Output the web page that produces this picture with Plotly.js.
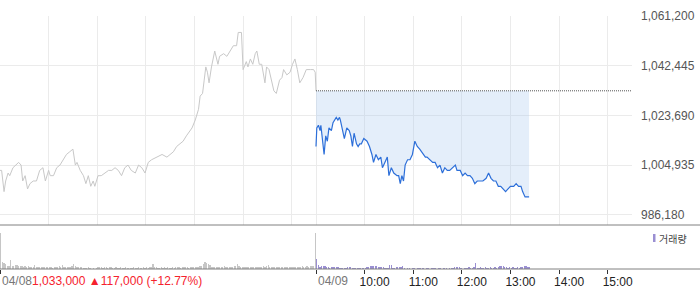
<!DOCTYPE html>
<html>
<head>
<meta charset="utf-8">
<script src="https://cdn.plot.ly/plotly-3.0.1.min.js"></script>
<style>
html,body{margin:0;padding:0;background:#fff;}
#chart{width:700px;height:289px;}
</style>
</head>
<body>
<div id="chart"></div>
<script>
// ---- data (minutes from 09:00 on 04/08; 04/09 session starts at minute 390) ----
const day1Min = [
  0,2,5,7,10,12,16,19,23,26,
  28,31,34,37,41,45,49,53,56,60,
  62,66,70,74,78,82,86,90,93,95,
  99,103,106,109,112,115,117,121,125,130,
  134,138,142,146,150,154,158,162,167,171,
  175,179,183,187,193,200,206,210,214,218,
  222,226,230,234,237,241,245,247,250,252,
  254,256,258,261,265,269,271,276,280,284,
  288,292,294,298,300,304,306,309,312,315,
  317,320,323,327,329,332,335,338,341,345,
  348,350,354,358,361,364,367,370,374,378,
  383,387,389,390
];
const day1Price = [
  1003000,1003000,995000,999000,1002000,1001000,1004000,1005000,1006000,1005000,
  999000,1001000,996000,998000,999000,999000,1003000,1004000,999000,1003000,
  1001000,1001000,1004000,1005000,1007000,1009000,1010000,1011000,1005000,1006000,
  1003000,1001000,998000,1001000,997000,999000,997000,1001000,1001000,1002000,
  1003000,1003000,1004000,1003000,1001000,1004000,1005000,1003000,1002000,1005000,
  1004000,1002000,1006000,1007000,1008000,1009000,1008000,1009000,1010000,1012000,
  1013000,1014000,1016000,1018000,1019000,1022000,1026000,1031000,1032000,1037000,
  1042000,1040000,1036000,1042000,1048000,1043000,1046000,1047000,1046000,1048000,
  1050000,1050000,1055000,1055000,1041000,1044000,1042000,1045000,1043000,1047000,
  1048000,1043000,1043000,1036000,1042000,1041000,1037000,1033000,1032000,1037000,
  1038000,1041000,1039000,1040000,1043000,1045000,1041000,1036000,1038000,1041000,
  1041000,1041000,1040000,1033000
];
const day2Min = [
  390,391,393,395,396,398,400,402,404,406,
  409,411,415,417,419,420,423,425,428,431,
  433,435,437,440,442,444,446,449,453,456,
  459,461,464,467,470,472,475,478,480,483,
  486,490,492,494,496,498,500,503,506,509,
  512,515,518,522,525,527,531,534,537,540,
  543,546,549,552,555,559,562,564,568,571,
  574,577,580,583,586,589,592,596,600,603,
  606,609,612,615,618,621,624,627,630,634,
  637,640,643,645,648,653
];
const day2Price = [
  1012000,1019000,1020000,1018000,1020000,1013000,1009000,1016000,1014000,1019000,
  1018000,1021000,1023000,1022000,1023000,1022000,1017000,1015000,1019000,1018000,
  1016000,1012000,1017000,1013000,1012000,1013000,1013000,1015000,1014000,1012000,
  1009000,1006000,1009000,1007000,1008000,1004000,1006000,1008000,1001000,1004000,
  1002000,1001000,1001000,998000,1001000,999000,1005000,1007000,1007000,1009000,
  1014000,1012000,1011000,1009000,1008000,1008000,1007000,1006000,1006000,1004000,
  1005000,1002000,1004000,1003000,1003000,1004000,1005000,1003000,1003000,1001000,
  1002000,1001000,1001000,1000000,998000,999000,999000,999000,1000000,1002000,
  1000000,999000,999000,997000,997000,996000,995000,996000,997000,997000,
  998000,997000,997000,995000,993000,993000
];
const prevClose = 1033000;   // 04/08 close
const change = 117000;
const changePct = 12.77;

// volume per 2-minute interval
const day1Vol = [
  3600,700,550,500,300,300,900,300,300,400,
  350,250,300,250,200,300,200,250,200,150,
  200,400,200,200,150,200,150,150,200,150,
  150,150,100,150,150,150,300,150,400,200,
  200,150,200,200,250,500,300,200,150,150,
  150,100,100,100,150,100,0,100,0,100,
  150,150,150,100,150,150,100,150,150,100,
  100,150,100,100,150,100,100,150,100,100,
  100,100,150,100,100,150,100,100,150,100,
  150,100,150,200,450,200,150,100,100,150,
  100,150,100,150,100,100,150,100,200,150,
  150,100,150,200,150,150,100,150,150,200,
  150,200,200,250,300,500,700,550,450,350,
  200,200,150,200,150,200,150,200,250,200,
  200,150,200,200,250,300,500,250,200,150,
  200,150,150,200,150,200,200,150,150,200,
  150,200,250,200,250,400,200,150,200,150,
  200,150,150,200,150,200,150,150,200,150,
  200,150,200,200,150,200,250,200,200,250,
  200,250,300,300,3600
];
const day2Vol = [
  1000,400,200,250,270,270,200,200,100,200,
  200,200,200,200,100,100,100,100,100,180,
  180,180,100,100,100,100,100,100,100,100,
  100,200,200,270,270,270,270,270,180,180,
  220,220,100,100,100,350,400,130,130,200,
  200,200,200,270,100,0,100,100,0,100,
  100,0,130,130,130,130,100,0,100,100,
  0,100,100,100,0,100,100,0,100,100,
  100,0,100,100,100,180,180,180,180,100,
  0,100,100,100,150,100,100,150,600,100,
  100,150,100,100,150,100,100,150,100,100,
  150,100,150,250,250,250,200,150,100,150,
  100,150,100,100,150,100,150,150,250,250,
  200,150
];

const yTicks = [986180, 1004935, 1023690, 1042445, 1061200];
const gridMin = [0,60,120,180,240,300,360,390,450,510,570,630,690,750];
const axisTickMin = [0,390,450,510,570,630,690,750];
const axisTickText = ['','','10:00','11:00','12:00','13:00','14:00','15:00'];
const day1Label = '04/08';
const day2Label = '04/09';
const volLabel = '거래량';
const sessionEnd = 780;

// ---- build ----
const fmt = n => n.toLocaleString('en-US');
const day1VolX = day1Vol.map((v,i)=>2*i+1);
const day2VolX = day2Vol.map((v,i)=>390+2*i+1);

const traces = [
  {x:day1Min, y:day1Price, type:'scatter', mode:'lines', line:{color:'#c8c8c8', width:1}, xaxis:'x', yaxis:'y', hoverinfo:'skip'},
  {x:[day2Min[0], day2Min[day2Min.length-1]], y:[prevClose, prevClose], type:'scatter', mode:'lines', line:{width:0, color:'rgba(0,0,0,0)'}, xaxis:'x', yaxis:'y', hoverinfo:'skip'},
  {x:day2Min, y:day2Price, type:'scatter', mode:'lines', line:{color:'#2d6fd9', width:1.2}, fill:'tonexty', fillcolor:'rgba(165,198,240,0.3)', xaxis:'x', yaxis:'y', hoverinfo:'skip'},
  {x:[day2Min[0], sessionEnd - 1], y:[prevClose, prevClose], type:'scatter', mode:'lines', line:{color:'#555', width:1, dash:'1px,1px'}, xaxis:'x', yaxis:'y', hoverinfo:'skip'},
  {x:day1VolX, y:day1Vol, type:'bar', width:1.6, marker:{color:'#c6c6c6', line:{width:0}}, xaxis:'x2', yaxis:'y2', hoverinfo:'skip'},
  {x:day2VolX, y:day2Vol, type:'bar', width:1.6, marker:{color:'#9a8fd2', line:{width:0}}, xaxis:'x2', yaxis:'y2', hoverinfo:'skip'}
];

const W = 632, H = 253; // plot area px
const layout = {
  width:700, height:289,
  margin:{l:0, r:68, t:16, b:20, pad:0},
  paper_bgcolor:'#fff', plot_bgcolor:'rgba(0,0,0,0)',
  showlegend:false, bargap:0,
  font:{family:'Liberation Sans, Arial, sans-serif', size:12, color:'#555'},
  xaxis:{domain:[0,1], range:[0,sessionEnd], anchor:'y', tickvals:gridMin, showticklabels:false,
         showgrid:true, gridcolor:'#ebebeb', gridwidth:1, zeroline:false, ticks:'', showline:false, fixedrange:true},
  yaxis:{domain:[44/H,1], range:[982407,1061200], side:'right', anchor:'x', tickvals:yTicks, tickformat:',d',
         showgrid:true, gridcolor:'#ebebeb', gridwidth:1, zeroline:false, ticks:'', showline:false,
         tickfont:{size:12, color:'#555'}, ticklabelstandoff:8, fixedrange:true},
  xaxis2:{domain:[0,1], range:[0,sessionEnd], anchor:'y2', tickvals:axisTickMin, ticktext:axisTickText,
          ticks:'outside', ticklen:4, tickwidth:1, tickcolor:'#333', showgrid:false, zeroline:false, showline:false,
          tickfont:{size:12, color:'#222'}, ticklabelshift:10, ticklabelstandoff:-2, fixedrange:true},
  yaxis2:{domain:[0,40/H], range:[0,3970], anchor:'x2', showticklabels:false, showgrid:false, zeroline:false, ticks:'', fixedrange:true},
  shapes:[
    {type:'line', xref:'paper', yref:'paper', x0:0, x1:700/W, y0:44/H, y1:44/H, line:{color:'#808080', width:1}},
    {type:'line', xref:'paper', yref:'paper', x0:0, x1:700/W, y0:0, y1:0, line:{color:'#808080', width:1}},
    {type:'rect', xref:'paper', yref:'paper', x0:653/W, x1:655.5/W, y0:27/H, y1:35/H, fillcolor:'#9a8fd2', line:{width:0}}
  ],
  annotations:[
    {xref:'paper', yref:'paper', x:0, y:-12/H, xanchor:'left', yanchor:'middle', showarrow:false,
     text:'<span style="color:#777">'+day1Label+'</span><span style="color:#f5222d">'+fmt(prevClose)+' ▲'+fmt(change)+' (+'+changePct.toFixed(2)+'%)</span>',
     font:{size:12, family:'Liberation Sans, Arial, sans-serif'}},
    {xref:'x2', yref:'paper', x:390, y:-12/H, xanchor:'left', yanchor:'middle', showarrow:false,
     text:day2Label, font:{size:12, color:'#777', family:'Liberation Sans, Arial, sans-serif'}},
    {xref:'paper', yref:'paper', x:657/W, y:31/H, xanchor:'left', yanchor:'middle', showarrow:false,
     text:volLabel, font:{size:10, color:'#444', family:'Noto Sans CJK KR, sans-serif'}}
  ]
};

Plotly.newPlot('chart', traces, layout, {staticPlot:true, displayModeBar:false});
</script>
</body>
</html>
